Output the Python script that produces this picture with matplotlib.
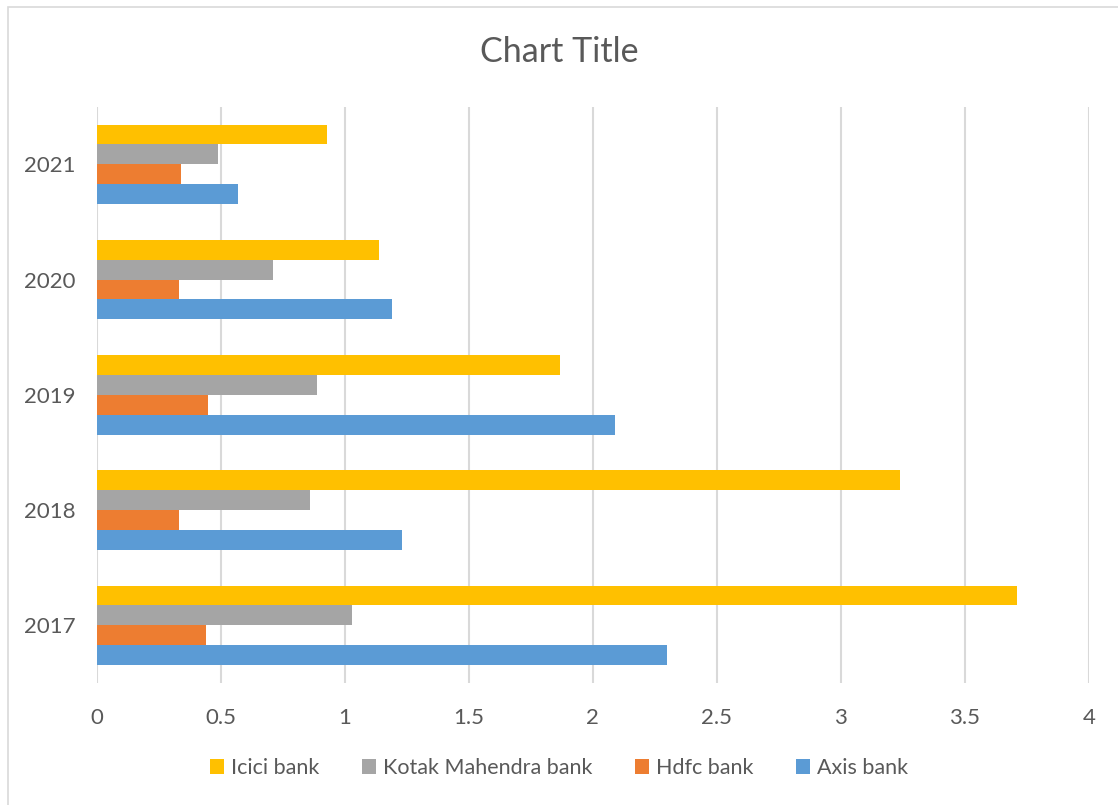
import matplotlib.pyplot as plt
import numpy as np
from matplotlib.patches import Rectangle

years = ['2017', '2018', '2019', '2020', '2021']
axis_bank = [2.30, 1.23, 2.09, 1.19, 0.57]
hdfc_bank = [0.44, 0.33, 0.45, 0.33, 0.34]
kotak_bank = [1.03, 0.86, 0.89, 0.71, 0.49]
icici_bank = [3.71, 3.24, 1.87, 1.14, 0.93]

series = [
    ('Axis bank', axis_bank, '#5B9BD5'),
    ('Hdfc bank', hdfc_bank, '#ED7D31'),
    ('Kotak Mahendra bank', kotak_bank, '#A5A5A5'),
    ('Icici bank', icici_bank, '#FFC000'),
]

text_color = '#595959'
plt.rcParams['font.family'] = ['Lato', 'DejaVu Sans']

fig = plt.figure(figsize=(11.18, 8.05), dpi=100)
ax = fig.add_axes([0.0865, 0.1516, 0.8873, 0.7159])

# outer chart border
fig.patches.append(Rectangle((8 / 1118, -0.02), 1.1, 1 - 7 / 805 + 0.02,
                             transform=fig.transFigure, fill=False,
                             edgecolor='#d9d9d9', linewidth=1.2))

y = np.arange(len(years))
h = 0.1725
bars = {}
for i, (name, vals, color) in enumerate(series):
    bars[name] = ax.barh(y + (i - 1.5) * h, vals, height=h, color=color,
                         label=name, zorder=3)

ax.set_xlim(0, 4)
ax.set_ylim(-0.5, len(years) - 0.5)
ax.set_xticks(np.arange(0, 4.01, 0.5))
ax.set_xticklabels(['0', '0.5', '1', '1.5', '2', '2.5', '3', '3.5', '4'])
ax.set_yticks(y)
ax.set_yticklabels(years)
ax.grid(axis='x', color='#d9d9d9', linewidth=1.5, zorder=0)
for s in ax.spines.values():
    s.set_visible(False)
ax.tick_params(length=0, labelsize=16, colors=text_color)
ax.tick_params(axis='x', pad=18)
ax.tick_params(axis='y', pad=15)

fig.text(0.5, 1 - 52 / 805, 'Chart Title', ha='center', va='center',
         fontsize=24.5, color=text_color)

order = ['Icici bank', 'Kotak Mahendra bank', 'Hdfc bank', 'Axis bank']
leg = fig.legend([bars[n] for n in order], order, loc='center',
                 bbox_to_anchor=(0.5, 1 - 768 / 805), ncol=4, frameon=False,
                 fontsize=15.5, handlelength=0.65, handleheight=0.65,
                 handletextpad=0.3, columnspacing=2.0)
for t in leg.get_texts():
    t.set_color(text_color)

plt.savefig('out.png', dpi=100)
plt.close()
